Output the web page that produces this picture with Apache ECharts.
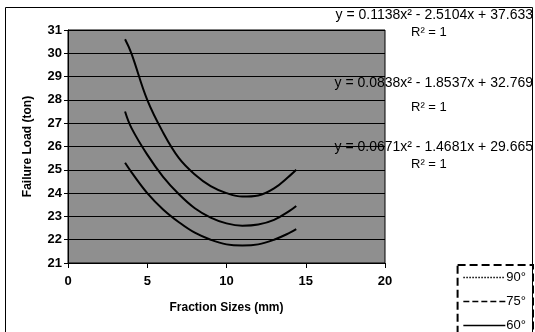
<!DOCTYPE html>
<html>
<head>
<meta charset="utf-8">
<script src="https://cdn.jsdelivr.net/npm/echarts@6/dist/echarts.min.js"></script>
<style>
  html, body { margin: 0; padding: 0; background: #fff; }
  #chart { width: 535px; height: 332px; }
</style>
</head>
<body>
<div id="chart"></div>
<script>
// values (fraction size in mm, failure load in ton)
var sizes = [3.6, 4, 5, 6, 7, 8, 9, 10, 11, 12, 13, 14, 14.4];
var load90 = [30.6, 30.0, 28.0, 26.6, 25.5, 24.8, 24.3, 24.0, 23.85, 23.9, 24.2, 24.75, 25.0];
var load75 = [27.5, 26.8, 25.65, 24.7, 23.95, 23.35, 22.95, 22.7, 22.6, 22.65, 22.85, 23.25, 23.45];
var load60 = [25.3, 24.9, 24.0, 23.3, 22.75, 22.3, 22.0, 21.8, 21.75, 21.8, 22.0, 22.3, 22.45];
var seriesNames = ['90°', '75°', '60°'];
var legendTypes = ['dotted', 'dashed', 'solid'];
var equations = [
    'y = 0.1138x² - 2.5104x + 37.633',
    'y = 0.0838x² - 1.8537x + 32.769',
    'y = 0.0671x² - 1.4681x + 29.665'
];

var chart = echarts.init(document.getElementById('chart'), null, {renderer: 'canvas'});

function pairs(xs, ys) {
    var out = [];
    for (var i = 0; i < xs.length; i++) {
        out.push([xs[i], ys[i]]);
    }
    return out;
}

var allLoads = [load90, load75, load60];
var series = [];
for (var s = 0; s < seriesNames.length; s++) {
    series.push({
        name: seriesNames[s],
        type: 'line',
        smooth: 0.4,
        symbol: 'none',
        silent: true,
        color: '#000',
        lineStyle: {color: '#000', width: 2},
        data: pairs(sizes, allLoads[s])
    });
}

// frame, equations and R² labels
var graphics = [{
    type: 'rect',
    shape: {x: 5.5, y: 7.5, width: 527, height: 340},
    style: {fill: null, stroke: '#000', lineWidth: 1}
}];
var eqTop = [8, 76, 140];
var rTop = [26, 101, 158];
for (var k = 0; k < equations.length; k++) {
    graphics.push({
        type: 'text',
        right: 2,
        top: eqTop[k],
        style: {text: equations[k], font: '14px Arial, "Liberation Sans"', fill: '#000'}
    });
    graphics.push({
        type: 'text',
        left: 411,
        top: rTop[k],
        style: {text: 'R² = 1', font: '13px Arial, "Liberation Sans"', fill: '#000'}
    });
}

var legendData = [];
for (var m = 0; m < seriesNames.length; m++) {
    legendData.push({
        name: seriesNames[m],
        itemStyle: {color: 'rgba(0,0,0,0)', borderWidth: 0},
        lineStyle: {type: legendTypes[m], width: 1.5, color: '#000'}
    });
}

chart.setOption({
    animation: false,
    backgroundColor: '#fff',
    textStyle: {fontFamily: 'Arial, "Liberation Sans"'},
    grid: {
        left: 68, top: 30, right: 150, bottom: 69,
        show: true,
        backgroundColor: '#8f8f8f',
        borderColor: '#000',
        borderWidth: 1
    },
    legend: {
        orient: 'vertical',
        right: 2,
        top: 265,
        height: 90,
        itemWidth: 42,
        itemHeight: 10,
        itemGap: 11,
        padding: [6, 7, 6, 5],
        borderColor: '#000',
        borderWidth: 2,
        borderType: 'dashed',
        selectedMode: false,
        textStyle: {fontSize: 13, color: '#000', padding: [0, 0, 0, -4]},
        data: legendData
    },
    xAxis: {
        type: 'value',
        min: 0, max: 20, interval: 5,
        name: 'Fraction Sizes (mm)',
        nameLocation: 'middle',
        nameGap: 39,
        nameTextStyle: {fontSize: 12, fontWeight: 'bold', color: '#000'},
        axisLine: {lineStyle: {color: '#000', width: 1}},
        axisTick: {show: true, length: 5, lineStyle: {color: '#000'}},
        axisLabel: {fontSize: 13, fontWeight: 'bold', color: '#000', margin: 12},
        splitLine: {show: false}
    },
    yAxis: {
        type: 'value',
        min: 21, max: 31, interval: 1,
        name: 'Failure Load (ton)',
        nameLocation: 'middle',
        nameGap: 34,
        nameTextStyle: {fontSize: 12, fontWeight: 'bold', color: '#000'},
        axisLine: {show: true, lineStyle: {color: '#000', width: 1}},
        axisTick: {show: true, length: 4, lineStyle: {color: '#000'}},
        axisLabel: {fontSize: 13, fontWeight: 'bold', color: '#000', margin: 6},
        splitLine: {show: true, lineStyle: {color: '#000', width: 1}}
    },
    graphic: graphics,
    series: series
});
</script>
</body>
</html>
